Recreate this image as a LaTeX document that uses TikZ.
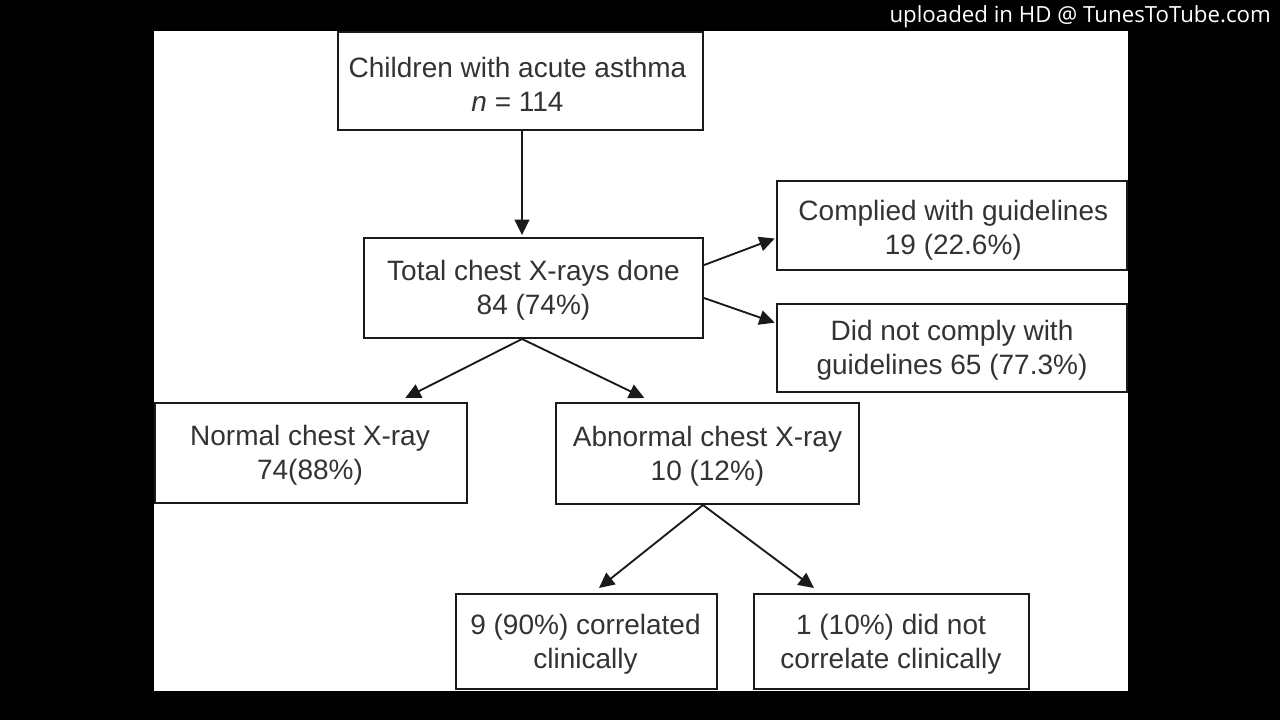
\documentclass[tikz,border=0pt]{standalone}
\usepackage{fontspec}
\setmainfont{Liberation Sans}
\newfontfamily\wmfont{Open Sans}
\usetikzlibrary{arrows.meta}
\definecolor{ink}{HTML}{333333}
\definecolor{edge}{HTML}{1A1A1A}
\tikzset{
  x=0.75pt,y=-0.75pt,
  flowbox/.style={draw=edge,line width=1.5pt,fill=white,inner sep=0pt},
  every label/.style={text=ink,align=center,inner sep=0pt,font=\fontsize{21pt}{25.4pt}\selectfont},
  flowarrow/.style={draw=edge,line width=1.4pt,-{Triangle[length=11.5pt,width=11pt]}}
}
\begin{document}
\begin{tikzpicture}
\useasboundingbox (0,0) rectangle (1280,720);
\fill[black] (0,0) rectangle (1280,720);
\fill[white] (154,31) rectangle (1128,691);
\node[flowbox,minimum width=273.75pt,minimum height=73.5pt,label={[xshift=-2.25pt,yshift=-2.25pt]center:{Children with acute asthma\\\textit{n} = 114}}] (top) at (520.5,81) {};
\node[flowbox,minimum width=254.25pt,minimum height=75pt,label={[yshift=-1.5pt]center:{Total chest X-rays done\\84 (74\%)}}] (chest) at (533.5,288) {};
\node[flowbox,minimum width=262.5pt,minimum height=66.75pt,label={[xshift=1pt,yshift=-3.5pt]center:{Complied with guidelines\\19 (22.6\%)}}] (comply) at (952,225.5) {};
\node[flowbox,minimum width=262.5pt,minimum height=66pt,label={[yshift=-2pt]center:{Did not comply with\\guidelines 65 (77.3\%)}}] (nocomply) at (952,348) {};
\node[flowbox,minimum width=234pt,minimum height=75pt,label={[xshift=-0.75pt,yshift=-1.5pt]center:{Normal chest X-ray\\74(88\%)}}] (normal) at (311,453) {};
\node[flowbox,minimum width=227.25pt,minimum height=75.75pt,label={[yshift=-2.25pt]center:{Abnormal chest X-ray\\10 (12\%)}}] (abnormal) at (707.5,453.5) {};
\node[flowbox,minimum width=195.75pt,minimum height=71.25pt,label={[xshift=-0.75pt,yshift=-2.25pt]center:{9 (90\%) correlated\\clinically}}] (corr) at (586.5,641.5) {};
\node[flowbox,minimum width=206.25pt,minimum height=71.25pt,label={[xshift=-0.4pt,yshift=-2.25pt]center:{1 (10\%) did not\\correlate clinically}}] (nocorr) at (891.5,641.5) {};
\node[text=white,font=\wmfont\fontsize{16.7pt}{20pt}\selectfont,anchor=east,inner sep=0pt] (mark) at (1271,16.5) {uploaded in HD @ TunesToTube.com};
\draw[flowarrow] ([xshift=1.1pt]top.south) -- ([xshift=-8.6pt,yshift=1.5pt]chest.north);
\draw[flowarrow] ([xshift=-8.6pt]chest.south) -- ([xshift=-47pt,yshift=3pt]normal.north east);
\draw[flowarrow] ([xshift=-8.6pt]chest.south) -- ([xshift=67pt,yshift=3pt]abnormal.north west);
\draw[flowarrow] ([yshift=17.2pt]chest.east) -- ([xshift=-1pt,yshift=-9.75pt]comply.west);
\draw[flowarrow] ([yshift=-7.5pt]chest.east) -- ([xshift=-1pt,yshift=19pt]nocomply.west);
\draw[flowarrow] ([xshift=-3.4pt]abnormal.south) -- ([xshift=108pt,yshift=3.75pt]corr.north west);
\draw[flowarrow] ([xshift=-3.4pt]abnormal.south) -- ([xshift=45.75pt,yshift=3.75pt]nocorr.north west);
\end{tikzpicture}
\end{document}
